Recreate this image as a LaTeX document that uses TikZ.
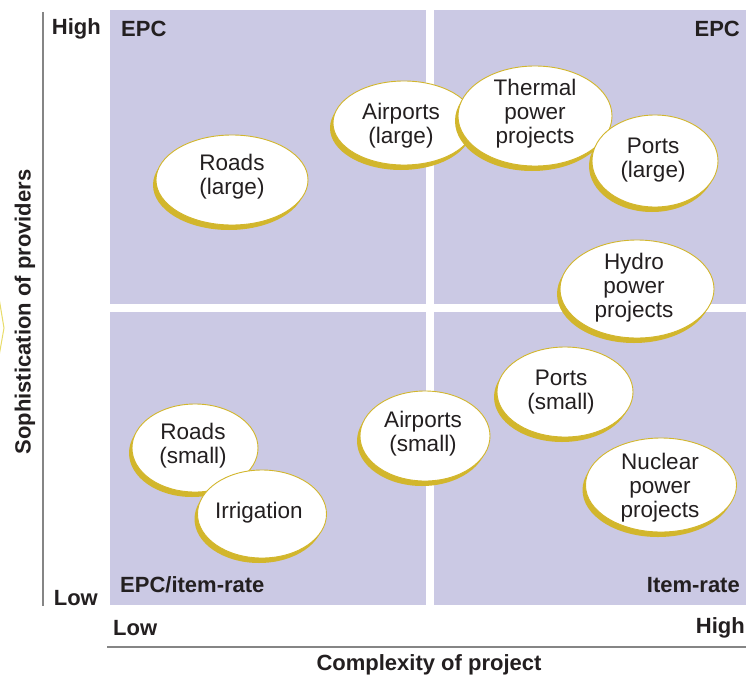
\documentclass[tikz,border=0pt]{standalone}
\usepackage{fontspec}
\setmainfont{Liberation Sans}
\usetikzlibrary{shapes.geometric,shadows}
\definecolor{quad}{HTML}{CBC9E4}
\definecolor{gold}{HTML}{D2B62C}
\definecolor{axisgray}{HTML}{858585}
\definecolor{ink}{HTML}{231F20}
\definecolor{chev}{HTML}{E8DC6A}
\tikzset{
  bub/.style={ellipse, draw=gold, line width=0.9pt, fill=white, inner sep=0pt,
    drop shadow={shadow xshift=-3pt, shadow yshift=-5pt, fill=gold, opacity=1}},
  btxt/.style={align=center, text=ink, font=\fontsize{22.5}{24}\selectfont},
  lab/.style={text=ink, font=\fontsize{22}{24}\selectfont\bfseries, inner sep=0pt},
  axisline/.style={draw=axisgray, line width=2pt}
}
\begin{document}
\begin{tikzpicture}[x=1pt,y=-1pt]
\useasboundingbox (0,0) rectangle (746,677);
% quadrants
\fill[quad] (110,10) rectangle (426,304);
\fill[quad] (434,10) rectangle (746,304);
\fill[quad] (110,312) rectangle (426,605);
\fill[quad] (434,312) rectangle (746,605);
% partial chevron at left edge
\draw[chev, line width=1pt, fill=white] (-2,292) -- (4,328) -- (-2,362);
% axes
\coordinate (vtop) at (43,12);
\coordinate (vbot) at (43,606);
\coordinate (hl) at (107,647);
\coordinate (hr) at (746,647);
\draw[axisline] (vtop) -- (vbot);
\draw[axisline] (hl) -- (hr);
% axis labels
\node[lab, anchor=east] (yhigh) at (101,29) {High};
\node[lab, anchor=east] (ylow) at (98,598) {Low};
\node[lab, anchor=west] (xlow) at (113,628) {Low};
\node[lab, anchor=east] (xhigh) at (745,628) {High};
\node[lab] (xtitle) at (429,665) {Complexity of project};
\node[lab, rotate=90] (ytitle) at (25,312) {Sophistication of providers};
% quadrant labels
\node[lab, anchor=west] (qtl) at (121,29) {EPC};
\node[lab, anchor=east] (qtr) at (740,29) {EPC};
\node[lab, anchor=west] (qbl) at (120,585) {EPC/item-rate};
\node[lab, anchor=east] (qbr) at (740,585) {Item-rate};
% bubbles
\node[bub, minimum width=152pt, minimum height=90pt] (roadsL) at (232,180) {};
\node[btxt] (roadsLt) at (232,177) {Roads\\(large)};
\node[bub, minimum width=142pt, minimum height=84pt] (airL) at (404,123) {};
\node[btxt] (airLt) at (401,126) {Airports\\(large)};
\node[bub, minimum width=154pt, minimum height=100pt] (thermal) at (535,116) {};
\node[btxt] (thermalt) at (535,114) {Thermal\\power\\projects};
\node[bub, minimum width=126pt, minimum height=92pt] (portsL) at (655,161) {};
\node[btxt] (portsLt) at (653,160) {Ports\\(large)};
\node[bub, minimum width=154pt, minimum height=98pt] (hydro) at (637,289) {};
\node[btxt] (hydrot) at (634,288) {Hydro\\power\\projects};
\node[bub, minimum width=136pt, minimum height=90pt] (portsS) at (565,392) {};
\node[btxt] (portsSt) at (561,392) {Ports\\(small)};
\node[bub, minimum width=130pt, minimum height=90pt] (airS) at (425,436) {};
\node[btxt] (airSt) at (423,434) {Airports\\(small)};
\node[bub, minimum width=151pt, minimum height=94pt] (nuclear) at (661,485) {};
\node[btxt] (nucleart) at (660,488) {Nuclear\\power\\projects};
\node[bub, minimum width=126pt, minimum height=88pt] (roadsS) at (195,448) {};
\node[btxt] (roadsSt) at (193,446) {Roads\\(small)};
\node[bub, minimum width=129pt, minimum height=88pt] (irrig) at (262,514) {};
\node[btxt] (irrigt) at (259,513) {Irrigation};
\end{tikzpicture}
\end{document}
